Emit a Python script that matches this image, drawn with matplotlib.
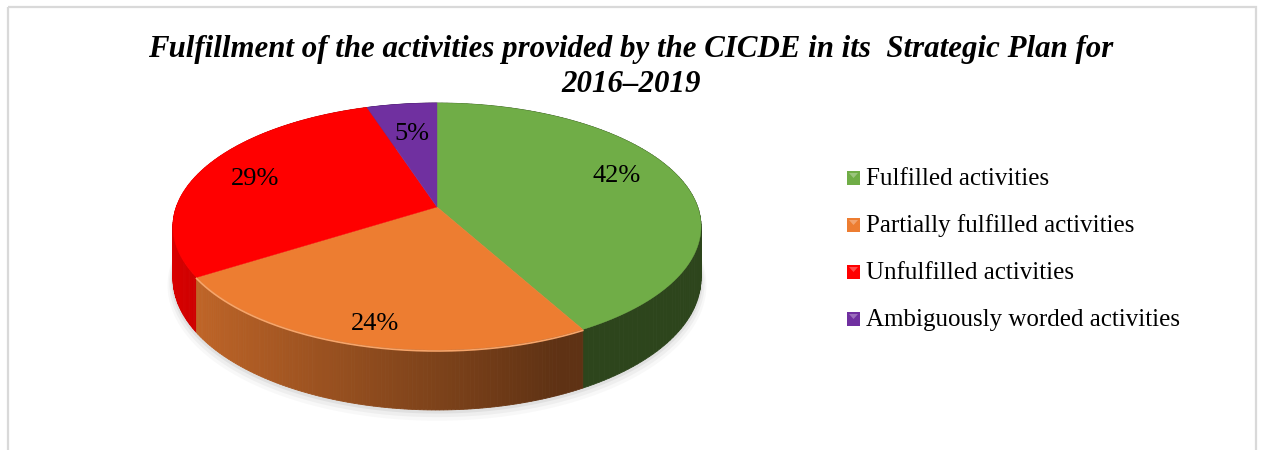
import numpy as np
import matplotlib.pyplot as plt
from matplotlib.patches import Rectangle, Polygon

labels = ["Fulfilled activities", "Partially fulfilled activities",
          "Unfulfilled activities", "Ambiguously worded activities"]
shares = [42, 24, 29, 5]
colors = ["#70ad47", "#ed7d31", "#ff0000", "#7030a0"]
title = "Fulfillment of the activities provided by the CICDE in its  Strategic Plan for\n2016\u20132019"

# pie geometry in pixel units
cx, cy = 437, 207
rx, ry = 260.7, 120.4
persp = 0.158
depth = 50.5
label_r = [0.72, 0.86, 0.78, 0.70]
label_shift = [(3, -10), (2, 2), (2, 3), (1, 2)]


def project(t, r=1.0, z=0.0):
    x, y = r * np.cos(t), r * np.sin(t)
    s = 1.0 / (1.0 + persp * y)
    return cx + rx * x * s, cy - ry * y * s + z * s


def shade(c, t):
    f = np.clip(0.86 - 0.33 * (np.cos(t) + 1), 0.40, 1.0)
    rgb = np.array(plt.matplotlib.colors.to_rgb(c))
    return tuple(rgb * f)


fig = plt.figure(figsize=(12.62, 4.5), dpi=100)
ax = fig.add_axes([0, 0, 1, 1])
ax.set_xlim(0, 1262)
ax.set_ylim(450, 0)
ax.axis("off")

ax.add_patch(Rectangle((8, 7), 1248, 460, fill=False, ec="#d9d9d9", lw=1.6))

fracs = np.array(shares) / sum(shares)
edges = np.pi / 2 - 2 * np.pi * np.concatenate([[0], np.cumsum(fracs)])

# soft shadow below the pie
full = np.linspace(0, 2 * np.pi, 400)
for k, a in [(6, 0.05), (4, 0.08), (2, 0.12)]:
    sx, sy = project(full, 1.0 + k / 300, depth + k)
    ax.fill(sx, sy, color="#808080", alpha=a, lw=0)

# side wall, painted back to front
quads = []
for i in range(len(shares)):
    ts = np.linspace(edges[i], edges[i + 1], 120)
    for t0, t1 in zip(ts[:-1], ts[1:]):
        tm = (t0 + t1) / 2
        x0, y0 = project(t0)
        x1, y1 = project(t1)
        x2, y2 = project(t1, z=depth)
        x3, y3 = project(t0, z=depth)
        quads.append((np.sin(tm), [(x0, y0), (x1, y1), (x2, y2), (x3, y3)],
                      shade(colors[i], tm)))
quads.sort(key=lambda q: -q[0])
for _, pts, col in quads:
    ax.add_patch(Polygon(pts, closed=True, fc=col, ec=col, lw=0.6))

# top face
for i in range(len(shares)):
    ts = np.linspace(edges[i], edges[i + 1], 200)
    px, py = project(ts)
    px = np.concatenate([[cx], px])
    py = np.concatenate([[cy], py])
    ax.fill(px, py, color=colors[i], lw=0.3, ec=colors[i])

# light bevel on the front rim of the orange slice
ts = np.linspace(edges[1], edges[2], 200)
bx, by = project(ts)
ax.plot(bx, by + 1, color="#f7a56a", lw=1.2)

# percentage labels
for i in range(len(shares)):
    tm = (edges[i] + edges[i + 1]) / 2
    lx, ly = project(tm, label_r[i])
    dx, dy = label_shift[i]
    ax.text(lx + dx, ly + dy, f"{shares[i]}%", ha="center", va="center",
            fontsize=19, family="Liberation Serif", color="#000000")

ax.text(631, 67, title, ha="center", va="center", fontsize=22.2,
        family="Liberation Serif", fontweight="bold", fontstyle="italic",
        linespacing=1.3)

# legend
for i, lab in enumerate(labels):
    y = 185 + i * 47
    ax.add_patch(Rectangle((847, y - 14), 13, 14, fc=colors[i], ec="none"))
    light = tuple(np.array(plt.matplotlib.colors.to_rgb(colors[i])) * 0.5 + 0.5)
    ax.add_patch(Polygon([(849, y - 12), (858, y - 12), (853.5, y - 7)],
                         closed=True, fc=light, ec="none", alpha=0.6))
    ax.text(866, y, lab, ha="left", va="baseline", fontsize=18,
            family="Liberation Serif", color="#000000")

fig.savefig("out.png", dpi=100)
